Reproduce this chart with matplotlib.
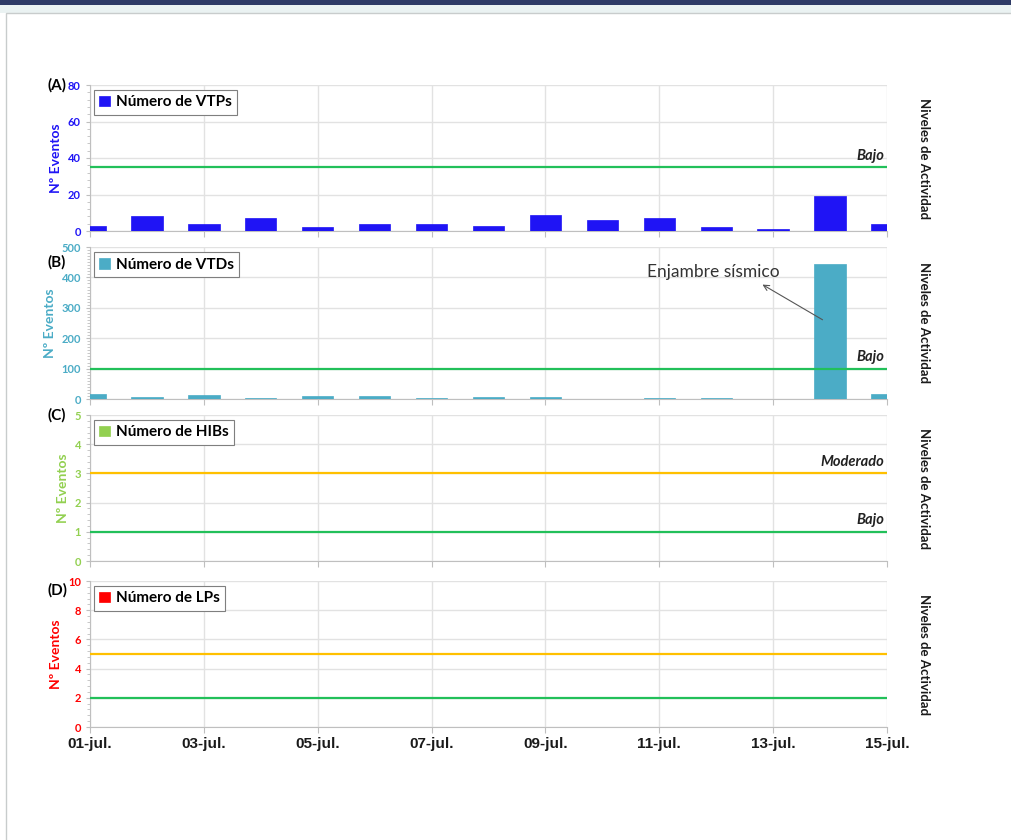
import matplotlib
matplotlib.use("Agg")
import matplotlib.pyplot as plt
from matplotlib.patches import Rectangle
from matplotlib.ticker import MultipleLocator, AutoMinorLocator


# ----------------------------------------------------------------------
# DATA
# ----------------------------------------------------------------------

days = [1, 2, 3, 4, 5, 6, 7, 8, 9, 10, 11, 12, 13, 14, 15]
tick_days = [1, 3, 5, 7, 9, 11, 13, 15]
tick_labels = ["01-jul.", "03-jul.", "05-jul.", "07-jul.", "09-jul.",
               "11-jul.", "13-jul.", "15-jul."]

vtp_counts = [3, 8, 4, 7, 2, 4, 4, 3, 9, 6, 7, 2, 1, 19, 4]
vtd_counts = [16, 5, 13, 3, 10, 10, 3, 7, 6, 0, 4, 2, 0, 443, 16]
hib_counts = [0] * 15
lp_counts = [0] * 15

panel_letters = ["(A)", "(B)", "(C)", "(D)"]
legend_names = ["Número de VTPs", "Número de VTDs", "Número de HIBs", "Número de LPs"]
y_max = [80, 500, 5, 10]
y_step = [20, 100, 1, 2]
y_minor = [5, 10, 5, 5]

# activity thresholds: (value, label or None, colour)
thresholds = [
    [(35, "Bajo", "#22C05A")],
    [(100, "Bajo", "#22C05A")],
    [(3, "Moderado", "#FFC000"), (1, "Bajo", "#22C05A")],
    [(5, None, "#FFC000"), (2, None, "#22C05A")],
]

colors = ["#1F14F5", "#4BACC6", "#92D050", "#FF0000"]
series = [vtp_counts, vtd_counts, hib_counts, lp_counts]


# ----------------------------------------------------------------------
# FIGURE
# ----------------------------------------------------------------------

W, H = 1011, 840
fig = plt.figure(figsize = (W / 100, H / 100), dpi = 100)
fig.patch.set_facecolor("white")

# page decoration (window frame of the screenshot)
fig.patches.append(Rectangle((0, 1 - 5 / H), 1, 5 / H, transform = fig.transFigure,
                             facecolor = "#2E3A66", edgecolor = "none", zorder = -2))
fig.patches.append(Rectangle((0, 1 - 13 / H), 1, 8 / H, transform = fig.transFigure,
                             facecolor = "#EAF2F2", edgecolor = "none", zorder = -2))
fig.patches.append(Rectangle((6 / W, -0.01), 1.01, 1 - 13 / H + 0.01, transform = fig.transFigure,
                             facecolor = "white", edgecolor = "#C8CCCC", linewidth = 1, zorder = -1))


def px_axes(left, top, right, bottom):
    return fig.add_axes([left / W, 1 - bottom / H, (right - left) / W, (bottom - top) / H])


panel_tops = [85, 247, 415, 581]
panel_bottoms = [231, 399, 561, 727]
letter_y = [85, 262, 415, 590]
x_left, x_right = 90, 887

axes = []
for i in range(4):
    ax = px_axes(x_left, panel_tops[i], x_right, panel_bottoms[i])
    ax.patch.set_alpha(0)
    axes.append(ax)
    col = colors[i]

    ax.bar(days, series[i], width = 0.55, color = col, edgecolor = col,
           linewidth = 0.5, zorder = 3, label = legend_names[i])

    for val, lab, lcol in thresholds[i]:
        ax.axhline(val, color = lcol, linewidth = 1.6, zorder = 4)
        if lab:
            ax.text(14.95, val + y_max[i] * 0.03, lab, ha = "right", va = "bottom",
                    fontsize = 10.5, fontweight = "bold", style = "italic",
                    family = "Lato", color = "#222222", zorder = 5)

    ax.set_xlim(1, 15)
    ax.set_ylim(0, y_max[i])
    ax.yaxis.set_major_locator(MultipleLocator(y_step[i]))
    ax.yaxis.set_minor_locator(AutoMinorLocator(y_minor[i]))
    ax.set_xticks(tick_days)
    ax.grid(True, axis = "both", color = "#E2E2E2", linewidth = 1, zorder = 0)
    ax.set_axisbelow(True)

    for side in ["top", "right"]:
        ax.spines[side].set_visible(False)
    for side in ["left", "bottom"]:
        ax.spines[side].set_color("#BFBFBF")
    ax.tick_params(axis = "y", which = "both", colors = "#BFBFBF", labelcolor = col,
                   labelsize = 8, length = 3)
    ax.tick_params(axis = "y", which = "minor", length = 2)
    ax.tick_params(axis = "x", colors = "#BFBFBF", length = 4)
    for t in ax.get_yticklabels():
        t.set_fontweight("bold")
        t.set_family("Lato")

    if i < 3:
        ax.set_xticklabels([])
    else:
        ax.set_xticklabels(tick_labels, fontsize = 11, fontweight = "bold",
                           family = "Liberation Sans", color = "#1A1A1A")

    ax.set_ylabel("Nº Eventos", color = col, fontsize = 10, fontweight = "bold",
                  family = "Lato", labelpad = 4)

    leg = ax.legend(loc = "upper left", bbox_to_anchor = (0.005, 0.965), borderaxespad = 0,
                    handlelength = 0.7, handleheight = 0.7, handletextpad = 0.4,
                    borderpad = 0.35, fancybox = False, framealpha = 1,
                    prop = {"family": "Lato", "weight": "bold", "size": 11})
    leg.get_frame().set_edgecolor("#7F7F7F")
    leg.get_frame().set_linewidth(0.8)

    fig.text(47 / W, 1 - letter_y[i] / H, panel_letters[i], fontsize = 11,
             fontweight = "bold", family = "Lato", ha = "left", va = "center")

    fig.text(924 / W, 1 - (panel_tops[i] + panel_bottoms[i]) / 2 / H, "Niveles de Actividad",
             rotation = -90, fontsize = 9.5, fontweight = "bold", family = "Lato",
             ha = "center", va = "center", color = "#1A1A1A")

# annotation of the seismic swarm
axes[1].text(11.95, 392, "Enjambre sísmico", fontsize = 12.5, family = "Lato",
             ha = "center", va = "bottom", color = "#333333", zorder = 6)
axes[1].annotate("", xy = (12.77, 381), xytext = (13.91, 256),
                 arrowprops = dict(arrowstyle = "->", color = "#555555", linewidth = 0.8))

plt.savefig("out.png", dpi = 100)
plt.close()
